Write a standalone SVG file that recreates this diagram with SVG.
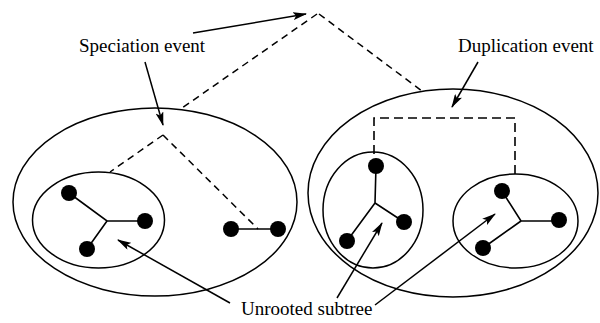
<svg xmlns="http://www.w3.org/2000/svg" width="600" height="323" viewBox="0 0 600 323">
<style>
.ell{fill:none;stroke:#000;stroke-width:1.5}
.edge{stroke:#000;stroke-width:1.6;fill:none}
.dot{fill:#000}
.dash{stroke:#000;stroke-width:1.5;fill:none;stroke-dasharray:7 5}
.dash2{stroke:#000;stroke-width:1.6;fill:none;stroke-dasharray:9 5}
.arr{stroke:#000;stroke-width:1.5;fill:none;marker-end:url(#ah)}
.lbl{font-family:"Liberation Serif","Times New Roman",serif;font-size:19px;fill:#000}
</style>
<defs>
<marker id="ah" markerUnits="userSpaceOnUse" markerWidth="14" markerHeight="8" refX="13" refY="4" orient="auto">
<path d="M0,0 L14,4 L0,8 L3,4 z" fill="#000"/>
</marker>
</defs>
<rect width="600" height="323" fill="#fff"/>
<g id="connectors">
<path class="dash" d="M317,14 L182,108"/>
<path class="dash" d="M163,135 L110,172"/>
<path class="dash" d="M163,135 L258,229"/>
<path class="dash" d="M319,14 L422,91"/>
<path class="dash2" d="M374,154 L374,118 L515,118 L515,174"/>
<path class="arr" d="M193,33 L306,14"/>
<path class="arr" d="M145,62 L163,125"/>
<path class="arr" d="M478,62 L452,107"/>
<path class="arr" d="M230,303 L118,240"/>
<path class="arr" d="M337,298 L382,223"/>
<path class="arr" d="M375,305 L495,214"/>
</g>
<g id="speciation">
<ellipse class="ell" cx="155" cy="202" rx="142" ry="94"/>
<text class="lbl" x="79" y="52">Speciation event</text>
</g>
<g id="duplication">
<ellipse class="ell" cx="453" cy="193" rx="145" ry="104"/>
<text class="lbl" x="458" y="52">Duplication event</text>
</g>
<g id="subtree-left">
<ellipse class="ell" cx="98.5" cy="220" rx="66" ry="48"/>
<path class="edge" d="M69,193 L107,221 L145,221 M107,221 L87,249"/>
<circle class="dot" cx="69" cy="193" r="8"/>
<circle class="dot" cx="145" cy="221" r="8"/>
<circle class="dot" cx="87" cy="249" r="8"/>
</g>
<g id="pair">
<path class="edge" d="M231,229 L278,229"/>
<circle class="dot" cx="231" cy="229" r="8"/>
<circle class="dot" cx="278" cy="229" r="8"/>
</g>
<g id="subtree-mid">
<ellipse class="ell" cx="373" cy="210" rx="50" ry="58"/>
<path class="edge" d="M376,166 L375,203 L404,222 M375,203 L347,241"/>
<circle class="dot" cx="376" cy="166" r="8"/>
<circle class="dot" cx="404" cy="222" r="8"/>
<circle class="dot" cx="347" cy="241" r="8"/>
</g>
<g id="subtree-right">
<ellipse class="ell" cx="515.5" cy="221" rx="62.5" ry="47"/>
<path class="edge" d="M502,191 L521,221 L559,221 M521,221 L483,248"/>
<circle class="dot" cx="502" cy="191" r="8"/>
<circle class="dot" cx="559" cy="220" r="8"/>
<circle class="dot" cx="483" cy="248" r="8"/>
</g>
<g id="unrooted-label">
<text class="lbl" x="241" y="315">Unrooted subtree</text>
</g>
</svg>
